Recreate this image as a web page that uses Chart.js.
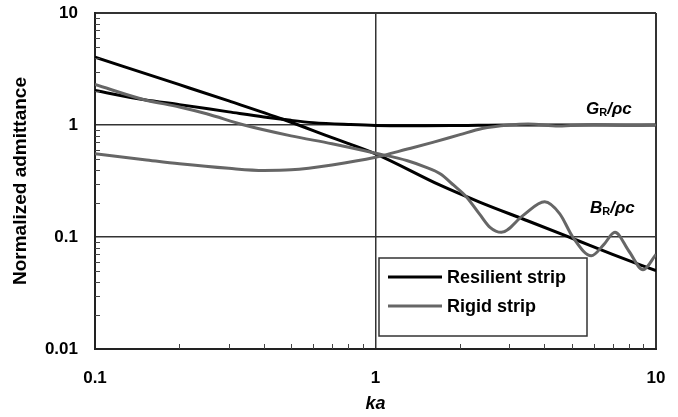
<!DOCTYPE html>
<html lang="en">
<head>
    <meta charset="UTF-8">
    <title>Normalized admittance</title>
    <script src="https://cdn.jsdelivr.net/npm/chart.js"></script>
    <style>
        html, body { margin: 0; padding: 0; background: #fff; }
        #wrap { width: 678px; height: 417px; }
    </style>
</head>
<body>
    <div id="wrap"><canvas id="chart"></canvas></div>

    <script>
        // (log-log, ka vs normalized admittance)
        const resGx = [0.1, 0.15, 0.2, 0.3, 0.4, 0.5, 0.6, 0.8, 1, 1.5, 2, 3, 5, 7, 10];
        const resGy = [2.03, 1.68, 1.52, 1.31, 1.18, 1.10, 1.05, 1.01, 0.99, 0.985, 0.99, 1.0, 1.0, 1.0, 1.0];

        const resBx = [0.1, 0.2, 0.3, 0.47, 0.7, 1, 1.7, 2.35, 3.5, 5.2, 7, 10];
        const resBy = [4.03, 2.29, 1.64, 1.12, 0.77, 0.553, 0.29, 0.205, 0.139, 0.094, 0.07, 0.05];

        const rigGx = [0.1, 0.15, 0.2, 0.3, 0.4, 0.5, 0.7, 1, 1.3, 1.6, 2, 2.4, 3, 3.5, 4.5, 6, 8, 10];
        const rigGy = [0.553, 0.49, 0.45, 0.41, 0.393, 0.398, 0.44, 0.515, 0.61, 0.70, 0.82, 0.93, 1.0, 1.02, 0.98, 1.01, 0.99, 1.0];

        const rigBx = [0.1, 0.15, 0.2, 0.25, 0.34, 0.5, 0.7, 1, 1.3, 1.5, 1.7, 1.9, 2.11, 2.35, 2.56, 2.81, 3.36, 4.01, 4.54, 5.05, 5.88, 6.5, 7.14, 8, 8.99, 10];
        const rigBy = [2.30, 1.68, 1.45, 1.26, 1.0, 0.80, 0.68, 0.56, 0.48, 0.423, 0.367, 0.29, 0.228, 0.16, 0.122, 0.110, 0.156, 0.206, 0.161, 0.100, 0.068, 0.085, 0.110, 0.075, 0.051, 0.070];

        const xTicks = [0.1, 1, 10];
        const yTicks = [0.01, 0.1, 1, 10];
        const minorSteps = [2, 3, 4, 5, 6, 7, 8, 9];

        const seriesNames = ['Resilient strip', 'Rigid strip'];
        const black = '#000000';
        const gray = '#666666';
        const fontFamily = '"Liberation Sans", Arial, sans-serif';

        function pts(xs, ys) {
            return xs.map((x, i) => ({ x: x, y: ys[i] }));
        }

        function line(label, data, color) {
            return {
                label: label,
                data: data,
                showLine: true,
                borderColor: color,
                backgroundColor: color,
                borderWidth: 3,
                pointRadius: 0,
                cubicInterpolationMode: 'monotone'
            };
        }

        // minor ticks sit inside the plot on the left and bottom edges
        const minorTicks = {
            id: 'minorTicks',
            afterDatasetsDraw(chart) {
                const { ctx, chartArea, scales } = chart;
                ctx.save();
                ctx.strokeStyle = '#444';
                ctx.lineWidth = 1;
                ctx.beginPath();
                [0.1, 1].forEach(d => minorSteps.forEach(k => {
                    const px = Math.round(scales.x.getPixelForValue(k * d)) + 0.5;
                    ctx.moveTo(px, chartArea.bottom);
                    ctx.lineTo(px, chartArea.bottom - 5);
                }));
                [0.01, 0.1, 1].forEach(d => minorSteps.forEach(k => {
                    const py = Math.round(scales.y.getPixelForValue(k * d)) + 0.5;
                    ctx.moveTo(chartArea.left, py);
                    ctx.lineTo(chartArea.left + 5, py);
                }));
                ctx.stroke();
                ctx.restore();
            }
        };

        function drawRatio(ctx, sym, x, y) {
            const big = 'italic bold 17px ' + fontFamily;
            const sub = 'bold 11px ' + fontFamily;
            ctx.textBaseline = 'alphabetic';
            ctx.textAlign = 'left';
            ctx.font = big;
            ctx.fillText(sym, x, y);
            x += ctx.measureText(sym).width;
            ctx.font = sub;
            ctx.fillText('R', x, y + 2);
            x += ctx.measureText('R').width;
            ctx.font = big;
            ctx.fillText('/\u03C1c', x, y);
        }

        const annotations = {
            id: 'annotations',
            afterDraw(chart) {
                const ctx = chart.ctx;
                ctx.save();
                ctx.fillStyle = '#000';
                drawRatio(ctx, 'G', 586, 114);
                drawRatio(ctx, 'B', 590, 213);

                // legend box
                ctx.fillStyle = '#fff';
                ctx.fillRect(379, 258, 208, 78);
                ctx.strokeStyle = '#333';
                ctx.lineWidth = 1.5;
                ctx.strokeRect(379, 258, 208, 78);

                const rows = [[seriesNames[0], black, 277], [seriesNames[1], gray, 306]];
                rows.forEach(([name, color, y]) => {
                    ctx.strokeStyle = color;
                    ctx.lineWidth = 3;
                    ctx.beginPath();
                    ctx.moveTo(388, y);
                    ctx.lineTo(442, y);
                    ctx.stroke();
                    ctx.fillStyle = '#000';
                    ctx.font = 'bold 18px ' + fontFamily;
                    ctx.textBaseline = 'middle';
                    ctx.fillText(name, 447, y + 1);
                });
                ctx.restore();
            }
        };

        const edgeWidth = (vals) => (c) => {
            const v = c.tick && c.tick.value;
            return (v === vals[0] || v === vals[vals.length - 1]) ? 2 : 1.5;
        };

        new Chart(document.getElementById('chart'), {
            type: 'scatter',
            data: {
                datasets: [
                    line(seriesNames[1], pts(rigGx, rigGy), gray),
                    line(seriesNames[1] + ' B', pts(rigBx, rigBy), gray),
                    line(seriesNames[0], pts(resGx, resGy), black),
                    line(seriesNames[0] + ' B', pts(resBx, resBy), black)
                ]
            },
            options: {
                responsive: true,
                maintainAspectRatio: false,
                animation: false,
                layout: { padding: { top: 13, right: 22, bottom: 0, left: 0 } },
                plugins: {
                    legend: { display: false },
                    tooltip: { enabled: false }
                },
                scales: {
                    x: {
                        type: 'logarithmic',
                        min: 0.1,
                        max: 10,
                        afterBuildTicks: s => { s.ticks = xTicks.map(v => ({ value: v })); },
                        afterFit: s => { s.height = 68; s.paddingLeft = 0; s.paddingRight = 0; },
                        ticks: {
                            autoSkip: false,
                            maxRotation: 0,
                            padding: 19,
                            color: '#000',
                            font: { family: fontFamily, size: 17, weight: 'bold' },
                            callback: v => String(v)
                        },
                        grid: { color: '#333', lineWidth: edgeWidth(xTicks), drawTicks: false },
                        border: { color: '#222', width: 2 },
                        title: {
                            display: true,
                            text: 'ka',
                            color: '#000',
                            padding: { top: 0, bottom: 2 },
                            font: { family: fontFamily, size: 18, weight: 'bold', style: 'italic' }
                        }
                    },
                    y: {
                        type: 'logarithmic',
                        min: 0.01,
                        max: 10,
                        afterBuildTicks: s => { s.ticks = yTicks.map(v => ({ value: v })); },
                        afterFit: s => { s.width = 95; s.paddingTop = 0; s.paddingBottom = 0; },
                        ticks: {
                            autoSkip: false,
                            padding: 17,
                            color: '#000',
                            font: { family: fontFamily, size: 17, weight: 'bold' },
                            callback: v => String(v)
                        },
                        grid: { color: '#333', lineWidth: edgeWidth(yTicks), drawTicks: false },
                        border: { color: '#222', width: 2 },
                        title: {
                            display: true,
                            text: 'Normalized admittance',
                            color: '#000',
                            padding: { top: 9, bottom: 0 },
                            font: { family: fontFamily, size: 19, weight: 'bold' }
                        }
                    }
                }
            },
            plugins: [minorTicks, annotations]
        });
    </script>
</body>
</html>
